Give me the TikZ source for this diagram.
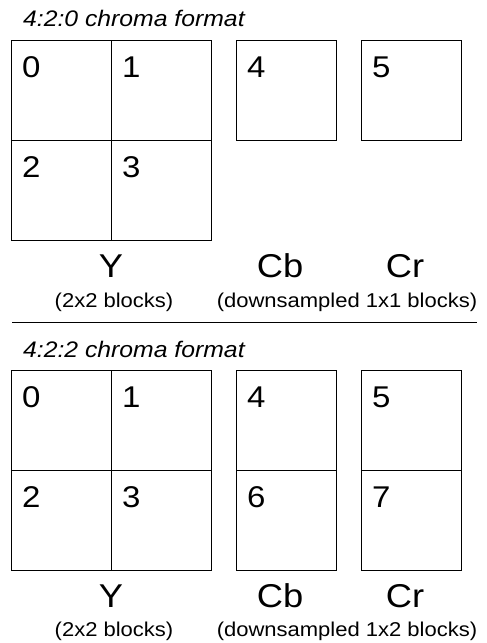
\documentclass[tikz,border=0pt]{standalone}
\usepackage{fontspec}
\setmainfont{Liberation Sans}[FakeStretch=1.1]
\usetikzlibrary{positioning}

\begin{document}
\begin{tikzpicture}[x=1pt, y=-1pt,
  cell/.style={rectangle, draw, line width=0.9pt, minimum width=100pt, minimum height=100pt, inner sep=0pt, outer sep=0pt},
  num/.style={font=\fontsize{30}{30}\selectfont, inner sep=0pt, anchor=base west, xshift=11pt, yshift=-37pt},
  chan/.style={font=\fontsize{33}{33}\selectfont, inner sep=0pt, anchor=base},
  note/.style={font=\fontsize{20}{20}\selectfont, inner sep=0pt, anchor=base},
  heading/.style={font=\fontsize{22.5}{22.5}\selectfont\itshape, inner sep=0pt, anchor=base west},
]
\useasboundingbox[fill=white] (0,0) rectangle (487,643);

% 4:2:0
\node[heading] (head420) at (23,26.5) {4:2:0 chroma format};

% Y blocks
\node[cell, label={[num]north west:0}] (ya0) at (61,90) {};
\node[cell, label={[num]north west:1}, right=0pt of ya0] (ya1) {};
\node[cell, label={[num]north west:2}, below=0pt of ya0] (ya2) {};
\node[cell, label={[num]north west:3}, below=0pt of ya1] (ya3) {};

% Cb, Cr
\node[cell, label={[num]north west:4}, right=25pt of ya1] (cba4) {};
\node[cell, label={[num]north west:5}, right=25pt of cba4] (cra5) {};

\node[chan] (ya) at (111,277) {Y};
\node[chan] (cba) at (280,277) {Cb};
\node[chan] (cra) at (405,277) {Cr};
\node[note] (yanote) at (114,307) {(2x2 blocks)};
\node[note] (cnotea) at (347,307) {(downsampled 1x1 blocks)};

% separator
\draw[line width=0.9pt] (12,322) -- (477,322);

% 4:2:2
\node[heading] (head422) at (23,357) {4:2:2 chroma format};

% Y blocks
\node[cell, label={[num]north west:0}] (yb0) at (61,420) {};
\node[cell, label={[num]north west:1}, right=0pt of yb0] (yb1) {};
\node[cell, label={[num]north west:2}, below=0pt of yb0] (yb2) {};
\node[cell, label={[num]north west:3}, below=0pt of yb1] (yb3) {};

% Cb, Cr
\node[cell, label={[num]north west:4}, right=25pt of yb1] (cbb4) {};
\node[cell, label={[num]north west:6}, below=0pt of cbb4] (cbb6) {};
\node[cell, label={[num]north west:5}, right=25pt of cbb4] (crb5) {};
\node[cell, label={[num]north west:7}, below=0pt of crb5] (crb7) {};

\node[chan] (yb) at (111,607) {Y};
\node[chan] (cbb) at (280,607) {Cb};
\node[chan] (crb) at (405,607) {Cr};
\node[note] (ybnote) at (114,636) {(2x2 blocks)};
\node[note] (cnoteb) at (347,636) {(downsampled 1x2 blocks)};

\end{tikzpicture}
\end{document}
